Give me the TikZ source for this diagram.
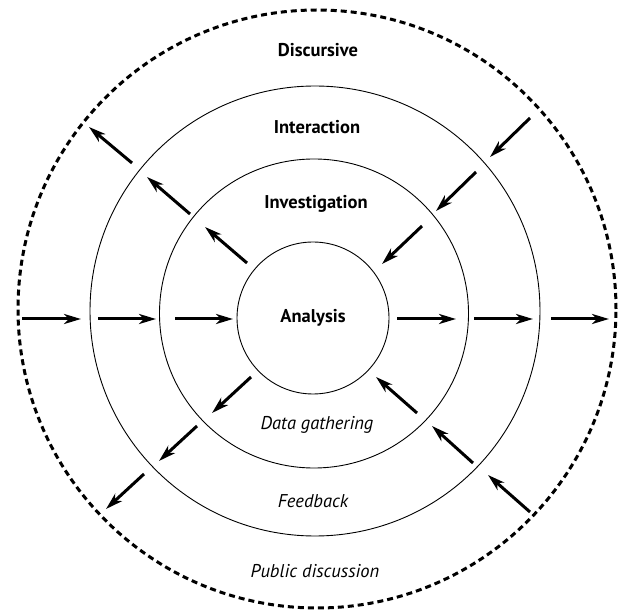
\documentclass[tikz,border=0pt]{standalone}
\usepackage{fontspec}
\setmainfont{PT Sans}
\usetikzlibrary{arrows.meta}
\begin{document}
\begin{tikzpicture}[x=1pt,y=-1pt,
  ring/.style={draw, circle, inner sep=0pt, line width=0.9pt},
  outerring/.style={draw, circle, inner sep=0pt, line width=3pt, dash pattern=on 6pt off 4pt},
  arr/.style={line width=3pt, -{Stealth[length=17pt,width=10pt,inset=5pt]}},
  bold/.style={font=\fontsize{18.5}{22}\selectfont\bfseries},
  ital/.style={font=\fontsize{18.5}{22}\selectfont\itshape}]
\useasboundingbox (0,0) rectangle (622,612);
\node[outerring, minimum size=598pt] (outer) at (317,309) {};
\node[ring, minimum size=450pt] (inter) at (315,311) {};
\node[ring, minimum size=309pt] (inv) at (314,313.5) {};
\node[ring, minimum size=152pt] (an) at (313,318) {};

\node[bold] (tdisc) at (318,50) {Discursive};
\node[bold] (tinter) at (317,127) {Interaction};
\node[bold] (tinv) at (316,204) {Investigation};
\node[bold] (tan) at (313,318) {Analysis};
\node[ital] (tdata) at (317,425) {Data gathering};
\node[ital] (tfeed) at (313,501) {Feedback};
\node[ital] (tpub) at (315,571) {Public discussion};

% horizontal arrows
\coordinate (h1s) at (22,319);  \coordinate (h1e) at (81,319);
\coordinate (h2s) at (98,319);  \coordinate (h2e) at (156,319);
\coordinate (h3s) at (175,319); \coordinate (h3e) at (233,319);
\coordinate (h4s) at (397,319); \coordinate (h4e) at (456,319);
\coordinate (h5s) at (474,319); \coordinate (h5e) at (533,319);
\coordinate (h6s) at (551,319); \coordinate (h6e) at (609,319);
% upper left
\coordinate (a1s) at (132,163); \coordinate (a1e) at (89,127);
\coordinate (a2s) at (190,214); \coordinate (a2e) at (147,177);
\coordinate (a3s) at (247,263); \coordinate (a3e) at (205,227);
% upper right
\coordinate (b1s) at (530,118); \coordinate (b1e) at (490,157);
\coordinate (b2s) at (476,172); \coordinate (b2e) at (436,211);
\coordinate (b3s) at (422,226); \coordinate (b3e) at (382,264);
% lower left
\coordinate (c1s) at (251,377); \coordinate (c1e) at (212,413);
\coordinate (c2s) at (197,426); \coordinate (c2e) at (159,461);
\coordinate (c3s) at (144,474); \coordinate (c3e) at (106,509);
% lower right
\coordinate (d1s) at (417,413); \coordinate (d1e) at (376,377);
\coordinate (d2s) at (473,463); \coordinate (d2e) at (432,426);
\coordinate (d3s) at (530,512); \coordinate (d3e) at (488,475);

\foreach \p in {h1,h2,h3,h4,h5,h6,a1,a2,a3,b1,b2,b3,c1,c2,c3,d1,d2,d3}
  \draw[arr] (\p s) -- (\p e);
\end{tikzpicture}
\end{document}
